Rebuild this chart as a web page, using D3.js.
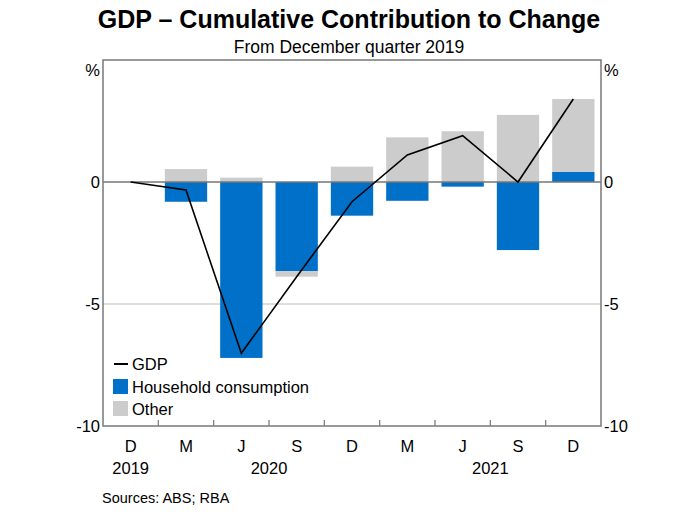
<!DOCTYPE html>
<html>
<head>
<meta charset="utf-8">
<script src="https://cdn.jsdelivr.net/npm/d3@7"></script>
<style>
  body { margin: 0; background: #fff; }
  text { font-family: Arial, "Liberation Sans", sans-serif; }
</style>
</head>
<body>
<div id="chart"></div>
<script>
const width = 691
const height = 519
const margin = { top: 60, right: 90, bottom: 93, left: 103 }

// data
const quarters = ["D19", "M20", "J20", "S20", "D20", "M21", "J21", "S21", "D21"]
const monthLabels = ["D", "M", "J", "S", "D", "M", "J", "S", "D"]
const yearLabels = [{ i: 0, text: "2019" }, { i: 2.5, text: "2020" }, { i: 6.5, text: "2021" }]
const household = [0, -0.81, -7.21, -3.65, -1.38, -0.77, -0.19, -2.79, 0.41]
const other = [0, 0.53, 0.18, -0.23, 0.63, 1.83, 2.08, 2.75, 2.99]
const gdp = [0, -0.33, -7.02, -3.88, -0.81, 1.11, 1.9, 0.0, 3.4]
const yTicks = [0, -5, -10]

const blue = "#0070c8"
const grey = "#cccccc"

const svg = d3.select("#chart").append("svg").attr("width", width).attr("height", height)

const x = d3.scaleBand().domain(quarters)
    .range([margin.left, width - margin.right]).paddingInner(0.235).paddingOuter(0.1175)
const y = d3.scaleLinear().domain([-10, 5]).range([height - margin.bottom, margin.top])

const rows = quarters.map((q, i) => ({ q: q, household: household[i], other: other[i] }))
const series = d3.stack().keys(["household", "other"]).offset(d3.stackOffsetDiverging)(rows)
const colors = { household: blue, other: grey }

// gridline at -5 and zero line
svg.append("line")
    .attr("x1", margin.left).attr("x2", width - margin.right)
    .attr("y1", y(-5)).attr("y2", y(-5))
    .attr("stroke", "#bdbdbd").attr("stroke-width", 1)

// bars
svg.append("g").selectAll("g").data(series).join("g")
    .attr("fill", d => colors[d.key])
    .selectAll("rect").data(d => d).join("rect")
        .attr("x", d => x(d.data.q))
        .attr("width", x.bandwidth())
        .attr("y", d => y(Math.max(d[0], d[1])))
        .attr("height", d => Math.abs(y(d[0]) - y(d[1])))

svg.append("line")
    .attr("x1", margin.left).attr("x2", width - margin.right)
    .attr("y1", y(0)).attr("y2", y(0))
    .attr("stroke", "#777").attr("stroke-width", 1.3)

// GDP line
const line = d3.line().x((d, i) => x(quarters[i]) + x.bandwidth() / 2).y(d => y(d))
svg.append("path").datum(gdp)
    .attr("d", line).attr("fill", "none")
    .attr("stroke", "#000").attr("stroke-width", 1.6)

// frame
svg.append("rect")
    .attr("x", margin.left).attr("y", margin.top)
    .attr("width", width - margin.left - margin.right)
    .attr("height", height - margin.top - margin.bottom)
    .attr("fill", "none").attr("stroke", "#808080").attr("stroke-width", 1.6)

// bottom ticks at quarter boundaries
const step = x.step()
svg.append("g").selectAll("line").data(quarters.slice(1)).join("line")
    .attr("x1", d => x(d) - step * x.paddingInner() / 2)
    .attr("x2", d => x(d) - step * x.paddingInner() / 2)
    .attr("y1", y(-10)).attr("y2", y(-10) - 6)
    .attr("stroke", "#808080").attr("stroke-width", 1.3)

// y labels both sides
const fs = 16.5
const yl = svg.append("g").attr("font-size", fs).attr("fill", "#000")
yTicks.forEach(t => {
    yl.append("text").attr("x", margin.left - 3).attr("y", y(t)).attr("dy", "0.35em")
        .attr("text-anchor", "end").text(t)
    yl.append("text").attr("x", width - margin.right + 3).attr("y", y(t)).attr("dy", "0.35em")
        .attr("text-anchor", "start").text(t)
})
yl.append("text").attr("x", margin.left - 3).attr("y", 76).attr("text-anchor", "end").text("%")
yl.append("text").attr("x", width - margin.right + 3).attr("y", 76).attr("text-anchor", "start").text("%")

// x labels
const xl = svg.append("g").attr("font-size", fs).attr("text-anchor", "middle")
xl.selectAll("text.m").data(monthLabels).join("text").attr("class", "m")
    .attr("x", (d, i) => x(quarters[i]) + x.bandwidth() / 2)
    .attr("y", 452).text(d => d)
xl.selectAll("text.yr").data(yearLabels).join("text").attr("class", "yr")
    .attr("x", d => margin.left + step * x.paddingOuter() + step * d.i + x.bandwidth() / 2)
    .attr("y", 474).text(d => d.text)

// titles
svg.append("text").attr("x", 349).attr("y", 28).attr("text-anchor", "middle")
    .attr("font-size", 25).attr("font-weight", "bold").text("GDP \u2013 Cumulative Contribution to Change")
svg.append("text").attr("x", 349).attr("y", 53).attr("text-anchor", "middle")
    .attr("font-size", 17.5).text("From December quarter 2019")

// legend
const lg = svg.append("g").attr("font-size", fs)
lg.append("line").attr("x1", 114).attr("x2", 128).attr("y1", 364).attr("y2", 364)
    .attr("stroke", "#000").attr("stroke-width", 2)
lg.append("text").attr("x", 132).attr("y", 370).text("GDP")
lg.append("rect").attr("x", 113).attr("y", 379).attr("width", 15).attr("height", 15).attr("fill", blue)
lg.append("text").attr("x", 132).attr("y", 393).text("Household consumption")
lg.append("rect").attr("x", 113).attr("y", 401).attr("width", 15).attr("height", 15).attr("fill", grey)
lg.append("text").attr("x", 132).attr("y", 415).text("Other")

// source
svg.append("text").attr("x", 102).attr("y", 503).attr("font-size", 14.5).text("Sources: ABS; RBA")
</script>
</body>
</html>
